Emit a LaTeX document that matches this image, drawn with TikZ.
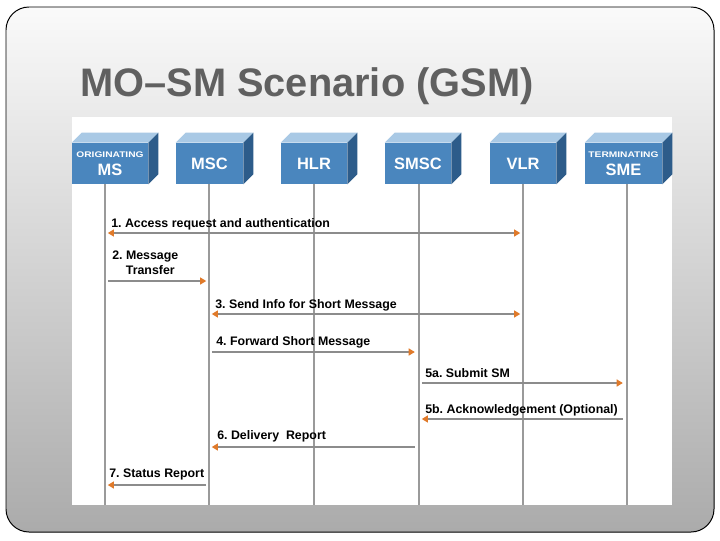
\documentclass[tikz,border=0pt]{standalone}
\usepackage{fontspec}
\usepackage{graphicx}
\setmainfont{Liberation Sans}
\usetikzlibrary{arrows.meta}
\definecolor{titlegray}{HTML}{606060}
\definecolor{boxfront}{HTML}{4A86BE}
\definecolor{boxtop}{HTML}{A9C9E5}
\definecolor{boxside}{HTML}{2D5C8A}
\definecolor{tipor}{HTML}{E07A2A}
\definecolor{lifegray}{HTML}{9A9A9A}
\frenchspacing

\begin{document}
\begin{tikzpicture}[x=.025cm,y=-.025cm, every node/.style={font=\bfseries},
  box/.style={fill=boxfront,text=white,align=center,minimum height=1.025cm,inner sep=0pt,font=\fontsize{11.7}{13}\bfseries},
  life/.style={lifegray,line width=1pt},
  msg/.style={black!45,line width=.8pt},
  otri/.tip={Triangle[length=4.3pt,width=5pt,color=tipor]},
  lbl/.style={anchor=base west,inner sep=0pt,align=left,font=\fontsize{8.8}{10.6}\bfseries}]
  \useasboundingbox (0,0) rectangle (720,540);
  \fill[white] (0,0) rectangle (720,540);
  \path[draw=black,line width=.7pt,top color=black!2,bottom color=black!33,rounded corners=.575cm] (6,7) rectangle (714,532);
  \node[anchor=base west,inner sep=0pt,text=titlegray,font=\fontsize{28.3}{34}\bfseries] (title) at (80,96) {MO--SM Scenario (GSM)};
  \fill[white] (72,117) rectangle (672,505);
  \foreach \n/\x in {ms/105,msc/209,hlr/314,smsc/419,vlr/523,sme/627}
    \draw[life] (\x,184) -- (\x,505) coordinate (\n-l);
  \foreach \n/\x/\w/\t in {ms/110/76/{\scalebox{1.25}[1]{\fontsize{5.8}{6}\selectfont ORIGINATING}\\MS},
      msc/209.5/67/MSC,hlr/314/66/HLR,smsc/418/66/SMSC,vlr/523/66/VLR,
      sme/623.5/77/{\scalebox{1.25}[1]{\fontsize{5.8}{6}\selectfont TERMINATING}\\SME}} {
    \node[box,minimum width=\w*.025cm] (\n) at (\x,163.5) {\t};
    \fill[boxtop] (\n.north west) -- ++(10,-10) -- ([shift={(10,-10)}]\n.north east) -- (\n.north east) -- cycle;
    \fill[boxside] (\n.north east) -- ++(10,-10) -- ([shift={(10,-10)}]\n.south east) -- (\n.south east) -- cycle;
  }
  \node[lbl] (m1) at (111,227) {1. Access request and authentication};
  \draw[msg,otri-otri] ([xshift=2pt]ms-l |- 0,233) -- ([xshift=-2pt]vlr-l |- 0,233);
  \node[lbl,anchor=north west] (m2) at (112,251) {2. Message\\\hspace*{1.1em}Transfer};
  \draw[msg,-otri] ([xshift=2pt]ms-l |- 0,281) -- ([xshift=-2pt]msc-l |- 0,281);
  \node[lbl] (m3) at (215,308) {3. Send Info for Short Message};
  \draw[msg,otri-otri] ([xshift=2pt]msc-l |- 0,314) -- ([xshift=-2pt]vlr-l |- 0,314);
  \node[lbl] (m4) at (216,345) {4. Forward Short Message};
  \draw[msg,-otri] ([xshift=2pt]msc-l |- 0,352) -- ([xshift=-3pt]smsc-l |- 0,352);
  \node[lbl] (m5a) at (425,377) {5a. Submit SM};
  \draw[msg,-otri] ([xshift=2pt]smsc-l |- 0,383) -- ([xshift=-3pt]sme-l |- 0,383);
  \node[lbl] (m5b) at (425,413) {5b. Acknowledgement (Optional)};
  \draw[msg,-otri] ([xshift=-3pt]sme-l |- 0,419) -- ([xshift=2pt]smsc-l |- 0,419);
  \node[lbl] (m6) at (217,439) {6. Delivery\ \ Report};
  \draw[msg,-otri] ([xshift=-3pt]smsc-l |- 0,447) -- ([xshift=2pt]msc-l |- 0,447);
  \node[lbl] (m7) at (109,477) {7. Status Report};
  \draw[msg,-otri] ([xshift=-2pt]msc-l |- 0,485) -- ([xshift=2pt]ms-l |- 0,485);
\end{tikzpicture}
\end{document}
